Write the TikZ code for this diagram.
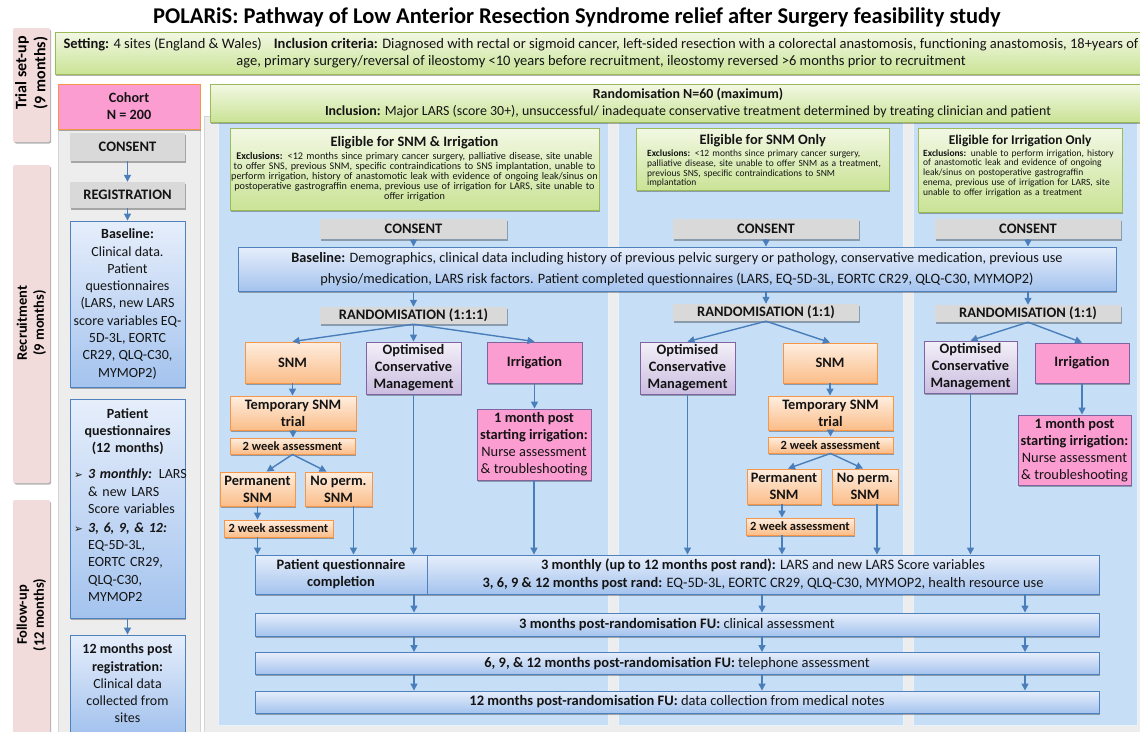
\documentclass[tikz,border=0pt]{standalone}
\usepackage{fontspec}
\setmainfont{Carlito}
\newfontfamily\symfnt{DejaVu Sans}
\usetikzlibrary{arrows.meta,shadows,calc}
\newcommand\setfs[2]{\fontsize{#1}{#2}\selectfont}
\newcommand\pqbul{{\symfnt\fontsize{10.5}{10}\selectfont ➢}}
\definecolor{gtop}{HTML}{F2F8E4}
\definecolor{gbot}{HTML}{CAE396}
\definecolor{gborder}{HTML}{9BBB59}
\definecolor{btop}{HTML}{E6EEFB}
\definecolor{bbot}{HTML}{A4C3EE}
\definecolor{bborder}{HTML}{4F81BD}
\definecolor{otop}{HTML}{FEEEE0}
\definecolor{obot}{HTML}{FBBD88}
\definecolor{oborder}{HTML}{F79646}
\definecolor{ptop}{HTML}{F3F0F8}
\definecolor{pbot}{HTML}{CBBDE0}
\definecolor{pborder}{HTML}{8064A2}
\definecolor{irrpink}{HTML}{FC9DD2}
\definecolor{grayfill}{HTML}{D9D9D9}
\definecolor{framefill}{HTML}{EDEDED}
\definecolor{frameline}{HTML}{D4D4D4}
\definecolor{panelc}{HTML}{C6DFF6}
\definecolor{bandc}{HTML}{F2DCDB}
\definecolor{arrowc}{HTML}{4A7EBB}
\tikzset{
 shd/.style={drop shadow={shadow xshift=1.2pt,shadow yshift=-1.5pt,opacity=0.3,fill=black}},
 bx/.style={inner sep=0pt, align=center, text=black!92, font=\setfs{14.4}{17}},
 greenbox/.style={bx, draw=gborder, line width=0.9pt, top color=gtop, bottom color=gbot, shd},
 bluebox/.style={bx, draw=bborder, line width=0.9pt, top color=btop, bottom color=bbot, shd},
 orangebox/.style={bx, draw=oborder, line width=0.9pt, top color=otop, bottom color=obot, shd, font=\setfs{14.4}{17}\bfseries},
 purplebox/.style={bx, draw=pborder, line width=0.9pt, top color=ptop, bottom color=pbot, shd, font=\setfs{14.4}{17}\bfseries},
 pinkbox/.style={bx, draw=pborder, line width=0.9pt, fill=irrpink, shd},
 graybox/.style={bx, fill=grayfill, shd, font=\setfs{14.5}{16}\bfseries},
 wkbox/.style={orangebox, font=\setfs{12.5}{14}\bfseries},
 bandbox/.style={fill=bandc, inner sep=0pt, rounded corners=2pt, shd},
 bandtext/.style={rotate=90, align=center, inner sep=0pt, font=\setfs{14.5}{17}\bfseries},
 panelbox/.style={fill=panelc, draw=white!60!panelc, line width=1pt, inner sep=0pt},
 framebox/.style={fill=framefill, draw=frameline, line width=0.8pt, inner sep=0pt},
 arr/.style={draw=arrowc, line width=1.4pt, -{Triangle[length=7pt,width=7pt]}},
}
\begin{document}
\begin{tikzpicture}[x=1pt,y=-1pt]
\useasboundingbox (0,0) rectangle (1140,731);
\clip (0,0) rectangle (1140,731);
\fill[white] (0,0) rectangle (1140,731);

% frames
\node[framebox, anchor=north west, minimum width=142pt, minimum height=660pt] (lframe) at (58,84) {};
\node[framebox, anchor=north west, minimum width=950pt, minimum height=630pt] (rframe) at (204,116) {};

% side bands
\node[bandbox, minimum width=37pt, minimum height=114pt] (bandT) at (31.5,85) {};
\node[bandbox, minimum width=37pt, minimum height=318pt] (bandR) at (31.5,324) {};
\node[bandbox, minimum width=37pt, minimum height=250pt] (bandF) at (31.5,625) {};
\node[bandtext, font=\setfs{16}{19}\bfseries] (bandTt) at (31.5,73) {Trial set-up\\(9 months)};
\node[bandtext] (bandRt) at (31.5,323) {Recruitment\\(9 months)};
\node[bandtext] (bandFt) at (31.5,615) {Follow-up\\(12 months)};

% title
\node[inner sep=0pt, font=\setfs{22.5}{25}\bfseries] (title) at (577,17) {POLARiS: Pathway of Low Anterior Resection Syndrome relief after Surgery feasibility study};

% setting
\node[greenbox, minimum width=1092pt, minimum height=42pt, font=\setfs{14.5}{17}] (setting) at (601,53) {\textbf{Setting:} 4 sites (England \& Wales)\hspace{12pt}\textbf{Inclusion criteria:} Diagnosed with rectal or sigmoid cancer, left-sided resection with a colorectal anastomosis, functioning anastomosis, 18+years of\\age, primary surgery/reversal of ileostomy <10 years before recruitment, ileostomy reversed >6 months prior to recruitment};

% left column
\node[pinkbox, draw=oborder, minimum width=142pt, minimum height=45pt, font=\setfs{14.2}{17}\bfseries] (cohort) at (129,106.5) {Cohort\\N = 200};
\node[graybox, minimum width=115pt, minimum height=28pt] (lconsent) at (127.5,147) {CONSENT};
\node[graybox, minimum width=115pt, minimum height=26pt] (lreg) at (127.5,195) {REGISTRATION};
\node[bluebox, minimum width=115pt, minimum height=166pt, font=\setfs{14}{17.3}] (lbase) at (127.5,304) {\textbf{Baseline:}\\Clinical data.\\Patient\\questionnaires\\(LARS, new LARS\\score variables EQ-\\5D-3L, EORTC\\CR29, QLQ-C30,\\MYMOP2)};
\node[bluebox, minimum width=115pt, minimum height=219pt] (lpq) at (127.5,508.5) {};
\node[bx, text width=135pt, align=left, anchor=west, font=\setfs{14}{17.3}] (lpqt) at (74,505) {%
\makebox[107pt]{\bfseries Patient}\\
\makebox[107pt]{\bfseries questionnaires}\\
\makebox[107pt]{\bfseries (12 months)}\\[8.7pt]
\makebox[14pt][l]{\pqbul}\textbf{\textit{3 monthly:}} LARS\\
\hspace*{14pt}\& new LARS\\
\hspace*{14pt}Score variables\\[1.7pt]
\makebox[14pt][l]{\pqbul}\textbf{\textit{3, 6, 9, \& 12:}}\\
\hspace*{14pt}EQ-5D-3L,\\
\hspace*{14pt}EORTC CR29,\\
\hspace*{14pt}QLQ-C30,\\
\hspace*{14pt}MYMOP2};
\node[bluebox, minimum width=115pt, minimum height=97pt, font=\setfs{14}{17.3}] (l12) at (127.5,683.5) {\textbf{12 months post}\\\textbf{registration:}\\Clinical data\\collected from\\sites};
\draw[arr] (lconsent.south) -- (lreg.north);
\draw[arr] (lreg.south) -- (lbase.north);
\draw[arr] (lpq.south) -- (l12.north);

% randomisation panels
\node[panelbox, minimum width=390pt, minimum height=603pt] (p1) at (413,423.5) {};
\node[panelbox, minimum width=285pt, minimum height=603pt] (p2) at (760.5,423.5) {};
\node[panelbox, minimum width=224pt, minimum height=603pt] (p3) at (1025,423.5) {};
\node[greenbox, minimum width=956pt, minimum height=38pt, font=\setfs{13.9}{17}] (randhdr) at (688,103) {\textbf{Randomisation N=60 (maximum)}\\\textbf{Inclusion:} Major LARS (score 30+), unsuccessful/ inadequate conservative treatment determined by treating clinician and patient};

% eligibility
\node[greenbox, minimum width=369pt, minimum height=82pt] (e1) at (414.5,169) {};
\node[greenbox, minimum width=253pt, minimum height=62pt] (e2) at (762.5,159) {};
\node[greenbox, minimum width=204pt, minimum height=84pt] (e3) at (1020,170) {};
\node[bx, text width=390pt, align=center, font=\setfs{10.2}{10}] (e1t) at (414.5,169) {\lineskiplimit=-\maxdimen{\setfs{14.4}{16}\bfseries Eligible for SNM \& Irrigation\par}\vspace{3.5pt}\textbf{Exclusions:} <12 months since primary cancer surgery, palliative disease, site unable\\to offer SNS, previous SNM, specific contraindications to SNS implantation, unable to\\perform irrigation, history of anastomotic leak with evidence of ongoing leak/sinus on\\postoperative gastrograffin enema, previous use of irrigation for LARS, site unable to\\offer irrigation};
\node[bx, text width=260pt, align=left, anchor=west, font=\setfs{9.5}{9.8}] (e2t) at (647,161) {\lineskiplimit=-\maxdimen{\setfs{14.4}{16}\makebox[231pt]{\bfseries Eligible for SNM Only}\par}\vspace{2pt}\textbf{Exclusions:} <12 months since primary cancer surgery,\\palliative disease, site unable to offer SNM as a treatment,\\previous SNS, specific contraindications to SNM\\implantation};
\node[bx, text width=220pt, align=left, anchor=west, font=\setfs{9.5}{9.8}] (e3t) at (923,166) {\lineskiplimit=-\maxdimen{\setfs{13.4}{16}\makebox[194pt]{\bfseries Eligible for Irrigation Only}\par}\vspace{2pt}\textbf{Exclusions:} unable to perform irrigation, history\\of anastomotic leak and evidence of ongoing\\leak/sinus on postoperative gastrograffin\\enema, previous use of irrigation for LARS, site\\unable to offer irrigation as a treatment};

% consent
\node[graybox, minimum width=187pt, minimum height=20pt] (c1) at (413.5,229) {CONSENT};
\node[graybox, minimum width=186pt, minimum height=20pt] (c2) at (766,229) {CONSENT};
\node[graybox, minimum width=186pt, minimum height=20pt] (c3) at (1028,229) {CONSENT};

% baseline
\node[bluebox, minimum width=878pt, minimum height=44pt, font=\setfs{14.3}{21}] (bmain) at (677,269) {\textbf{Baseline:} Demographics, clinical data including history of previous pelvic surgery or pathology, conservative medication, previous use\\physio/medication, LARS risk factors. Patient completed questionnaires (LARS, EQ-5D-3L, EORTC CR29, QLQ-C30, MYMOP2)};

% randomisation
\node[graybox, minimum width=187pt, minimum height=17pt] (r1) at (413.5,315.5) {RANDOMISATION (1:1:1)};
\node[graybox, minimum width=186pt, minimum height=17pt] (r2) at (766,312.5) {RANDOMISATION (1:1)};
\node[graybox, minimum width=186pt, minimum height=17pt] (r3) at (1028,313.5) {RANDOMISATION (1:1)};

\foreach \c in {c1,c2,c3}{\draw[arr] (\c.south) -- (\c.south |- bmain.north);}
\foreach \r in {r1,r2,r3}{\draw[arr] (\r.north |- bmain.south) -- (\r.north);}

% panel 1 flow
\node[orangebox, minimum width=95pt, minimum height=41pt] (snm1) at (292.5,362.5) {SNM};
\node[purplebox, minimum width=95pt, minimum height=52pt] (ocm1) at (413.5,368) {Optimised\\Conservative\\Management};
\node[pinkbox, minimum width=95pt, minimum height=41pt, font=\setfs{14.4}{17}\bfseries] (irr1) at (534.5,362.5) {Irrigation};
\node[orangebox, minimum width=126pt, minimum height=34pt] (tmp1) at (293,413) {Temporary SNM\\trial};
\node[wkbox, minimum width=125pt, minimum height=16pt] (wk1) at (292.5,446) {2 week assessment};
\node[orangebox, minimum width=75pt, minimum height=34pt] (perm1) at (257.5,489) {Permanent\\SNM};
\node[orangebox, minimum width=67pt, minimum height=34pt] (noperm1) at (338.5,489) {No perm.\\SNM};
\node[wkbox, minimum width=109pt, minimum height=17pt] (wk1b) at (278.5,528.5) {2 week assessment};
\node[pinkbox, minimum width=114pt, minimum height=71pt] (mon1) at (534,444.5) {\textbf{1 month post}\\\textbf{starting irrigation:}\\Nurse assessment\\\& troubleshooting};

% panel 2 flow
\node[purplebox, minimum width=95pt, minimum height=52pt] (ocm2) at (687.5,368) {Optimised\\Conservative\\Management};
\node[orangebox, minimum width=94pt, minimum height=40pt] (snm2) at (830,363) {SNM};
\node[orangebox, minimum width=125pt, minimum height=34pt] (tmp2) at (830.5,413) {Temporary SNM\\trial};
\node[wkbox, minimum width=125pt, minimum height=16pt] (wk2) at (830.5,445) {2 week assessment};
\node[orangebox, minimum width=74pt, minimum height=35pt] (perm2) at (784,486.5) {Permanent\\SNM};
\node[orangebox, minimum width=66pt, minimum height=35pt] (noperm2) at (865,486.5) {No perm.\\SNM};
\node[wkbox, minimum width=108pt, minimum height=17pt] (wk2b) at (800,526.5) {2 week assessment};

% panel 3 flow
\node[purplebox, minimum width=93pt, minimum height=52pt] (ocm3) at (970.5,367) {Optimised\\Conservative\\Management};
\node[pinkbox, minimum width=94pt, minimum height=40pt, font=\setfs{14.4}{17}\bfseries] (irr3) at (1082,363) {Irrigation};
\node[pinkbox, minimum width=113pt, minimum height=70pt] (mon3) at (1074.5,450) {\textbf{1 month post}\\\textbf{starting irrigation:}\\Nurse assessment\\\& troubleshooting};

% bottom boxes
\node[bluebox, minimum width=172pt, minimum height=39pt, font=\setfs{14.4}{17}\bfseries] (pqc) at (341,574.5) {Patient questionnaire\\completion};
\node[bluebox, minimum width=672pt, minimum height=39pt, font=\setfs{14.4}{18}] (m3) at (763,574.5) {\textbf{3 monthly (up to 12 months post rand):} LARS and new LARS Score variables\\\textbf{3, 6, 9 \& 12 months post rand:} EQ-5D-3L, EORTC CR29, QLQ-C30, MYMOP2, health resource use};
\node[bluebox, minimum width=844pt, minimum height=23pt, font=\setfs{14.5}{17}] (fu3) at (677,624.5) {\textbf{3 months post-randomisation FU:} clinical assessment};
\node[bluebox, minimum width=844pt, minimum height=22pt, font=\setfs{14.5}{17}] (fu6) at (677,663.5) {\textbf{6, 9, \& 12 months post-randomisation FU:} telephone assessment};
\node[bluebox, minimum width=844pt, minimum height=22pt, font=\setfs{14.5}{17}] (fu12) at (677,702) {\textbf{12 months post-randomisation FU:} data collection from medical notes};

% panel 1 arrows
\draw[arr] (r1.south) -- (snm1.north);
\draw[arr] (r1.south) -- (ocm1.north);
\draw[arr] (r1.south) -- (irr1.north);
\draw[arr] (snm1.south) -- (snm1.south |- tmp1.north);
\draw[arr] (tmp1.south) -- (tmp1.south |- wk1.north);
\draw[arr] (wk1.south) -- ([xshift=9pt]perm1.north);
\draw[arr] (wk1.south) -- ([xshift=-12pt]noperm1.north);
\draw[arr] (perm1.south) -- (perm1.south |- wk1b.north);
\draw[arr] (perm1.south |- wk1b.south) -- (perm1.south |- pqc.north);
\draw[arr] ([xshift=15pt]noperm1.south) -- ([xshift=15pt]noperm1.south |- pqc.north);
\draw[arr] (ocm1.south) -- (ocm1.south |- pqc.north);
\draw[arr] (irr1.south) -- (irr1.south |- mon1.north);
\draw[arr] (mon1.south) -- (mon1.south |- m3.north);

% panel 2 arrows
\draw[arr] (r2.south) -- (ocm2.north);
\draw[arr] (r2.south) -- (snm2.north);
\draw[arr] (snm2.south) -- (snm2.south |- tmp2.north);
\draw[arr] (tmp2.south) -- (tmp2.south |- wk2.north);
\draw[arr] (wk2.south) -- ([xshift=4pt]perm2.north);
\draw[arr] (wk2.south) -- ([xshift=-2pt]noperm2.north);
\draw[arr] ([xshift=-2pt]perm2.south) -- ([xshift=-2pt]perm2.south |- wk2b.north);
\draw[arr] ([xshift=-2pt]perm2.south |- wk2b.south) -- ([xshift=-2pt]perm2.south |- m3.north);
\draw[arr] ([xshift=12pt]noperm2.south) -- ([xshift=12pt]noperm2.south |- m3.north);
\draw[arr] (ocm2.south) -- (ocm2.south |- m3.north);

% panel 3 arrows
\draw[arr] (r3.south) -- (ocm3.north);
\draw[arr] (r3.south) -- (irr3.north);
\draw[arr] (irr3.south) -- (irr3.south |- mon3.north);
\draw[arr] (ocm3.south) -- (ocm3.south |- m3.north);

% follow-up arrows
\coordinate (xa) at (414,0);
\coordinate (xb) at (762,0);
\coordinate (xc) at (1025,0);
\draw[arr] (xa |- pqc.south) -- (xa |- fu3.north);
\draw[arr] (xb |- m3.south) -- (xb |- fu3.north);
\draw[arr] (xc |- m3.south) -- (xc |- fu3.north);
\foreach \c in {xa,xb,xc}{
  \draw[arr] (\c |- fu3.south) -- (\c |- fu6.north);
  \draw[arr] (\c |- fu6.south) -- (\c |- fu12.north);
}
\end{tikzpicture}
\end{document}
